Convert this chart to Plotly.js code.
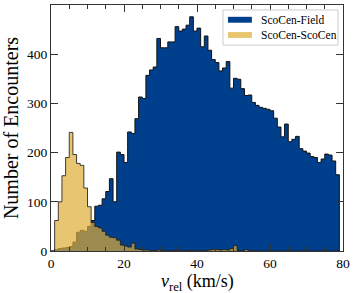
<!DOCTYPE html>
<html>
<head>
<meta charset="utf-8">
<script src="https://cdn.plot.ly/plotly-3.0.1.min.js"></script>
<style>html,body{margin:0;padding:0;background:#fff;}#chart{width:357px;height:293px;}</style>
</head>
<body>
<div id="chart"></div>
<script>
// Left edges of the 1 km/s bins (km/s)
const binLeft = [0,1,2,3,4,5,6,7,8,9,10,11,12,13,14,15,16,17,18,19,20,21,22,23,24,25,26,27,28,29,30,31,32,33,34,35,36,37,38,39,40,41,42,43,44,45,46,47,48,49,50,51,52,53,54,55,56,57,58,59,60,61,62,63,64,65,66,67,68,69,70,71,72,73,74,75,76,77,78];
const binWidth = 1;

// ScoCen-Field encounter counts per bin
const fieldCounts = [0,3,5,6,7,9,18,38,42,40,50,62,
  91,93,106,121,147,100,201,196,180,242,239,269,313,310,357,368,374,432,
  413,413,425,425,456,447,451,459,476,447,453,415,437,408,389,383,366,372,385,
  331,351,349,330,316,317,302,296,292,290,288,285,270,252,232,258,222,227,233,208,203,199,192,190,180,187,197,195,183,155];

// ScoCen-ScoCen encounter counts per bin
const scocenCounts = [0,62,100,153,190,241,196,178,174,128,
  90,58,50,47,40,32,28,27,22,12,
  10,8,16,4,3,2,2,1,1,2,
  1,1,0,1,1,1,0,1,1,0,
  1,0,1,2,3,3,2,3,2,5,
  11,1,0,3,0,1,0,0,0,0,
  0,0,0,0,0,0,0,0,0,0,
  0,0,0,0,0,0,0,0,0];

const seriesNames = ['ScoCen-Field', 'ScoCen-ScoCen'];
const seriesFill = ['#003f8c', 'rgba(222,172,52,0.7)'];
const xTitle = '<i>v</i><sub>rel</sub> (km/s)';
const yTitle = 'Number of Encounters';

function stepPath(lefts, counts, w) {
  const x = [lefts[0]], y = [0];
  for (let i = 0; i < counts.length; i++) { x.push(lefts[i]); y.push(counts[i]); }
  const end = lefts[lefts.length - 1] + w;
  x.push(end); y.push(counts[counts.length - 1]);
  x.push(end); y.push(0);
  return {x, y};
}

const f = stepPath(binLeft, fieldCounts, binWidth);
const s = stepPath(binLeft, scocenCounts, binWidth);

const traces = [
  {x: f.x, y: f.y, type: 'scatter', mode: 'lines', line: {shape: 'hv', width: 0}, fill: 'tozeroy',
   fillcolor: seriesFill[0], name: seriesNames[0], hoverinfo: 'skip'},
  {x: f.x, y: f.y, type: 'scatter', mode: 'lines', line: {shape: 'hv', width: 1, color: '#111'},
   hoverinfo: 'skip'},
  {x: s.x, y: s.y, type: 'scatter', mode: 'lines', line: {shape: 'hv', width: 0}, fill: 'tozeroy',
   fillcolor: seriesFill[1], name: seriesNames[1], hoverinfo: 'skip'},
  {x: s.x, y: s.y, type: 'scatter', mode: 'lines', line: {shape: 'hv', width: 1, color: 'rgba(30,30,30,0.85)'},
   hoverinfo: 'skip'}
];

const axisCommon = {
  ticks: 'inside', ticklen: 7, tickwidth: 1, tickcolor: '#333',
  mirror: 'allticks', showline: true, linecolor: '#333', linewidth: 1,
  showgrid: false, zeroline: false, tickfont: {size: 13.5, color: '#000'}
};

// Legend drawn as a framed box with swatches (paper coordinates)
const legBox = {x0: 0.589, x1: 0.983, y0: 0.837, y1: 0.980};
const legRowsY = [0.940, 0.878];
const swatchX = [0.606, 0.688];
const shapes = [
  {type: 'rect', xref: 'paper', yref: 'paper', x0: legBox.x0, x1: legBox.x1, y0: legBox.y0, y1: legBox.y1,
   fillcolor: 'rgba(255,255,255,0.85)', line: {color: '#cccccc', width: 1}, layer: 'above'}
];
const annotations = [
  {xref: 'paper', yref: 'paper', x: 0.5, y: -0.073, xanchor: 'center', yanchor: 'top',
   text: xTitle, showarrow: false, font: {size: 18, color: '#000'}}
];
seriesNames.forEach((nm, i) => {
  shapes.push({type: 'rect', xref: 'paper', yref: 'paper', x0: swatchX[0], x1: swatchX[1],
    y0: legRowsY[i] - 0.012, y1: legRowsY[i] + 0.012, fillcolor: seriesFill[i], line: {width: 0}, layer: 'above'});
  annotations.push({xref: 'paper', yref: 'paper', x: 0.714, y: legRowsY[i], xanchor: 'left', yanchor: 'middle',
    text: nm, showarrow: false, font: {size: 11.5, color: '#000'}});
});

const layout = {
  width: 357, height: 293,
  margin: {l: 51, r: 14, t: 5, b: 42},
  paper_bgcolor: '#fff', plot_bgcolor: '#fff',
  font: {family: '"Liberation Serif", "Times New Roman", serif', color: '#000', size: 13},
  showlegend: false,
  xaxis: Object.assign({}, axisCommon, {
    range: [0, 80], dtick: 20, tick0: 0,
    minor: {dtick: 5, ticks: 'inside', ticklen: 4, tickcolor: '#333', showgrid: false}
  }),
  yaxis: Object.assign({}, axisCommon, {
    range: [0, 500], dtick: 100, tick0: 0,
    title: {text: yTitle, font: {size: 20}, standoff: 3}
  }),
  shapes: shapes,
  annotations: annotations
};

Plotly.newPlot('chart', traces, layout, {staticPlot: true, displayModeBar: false});
</script>
</body>
</html>
